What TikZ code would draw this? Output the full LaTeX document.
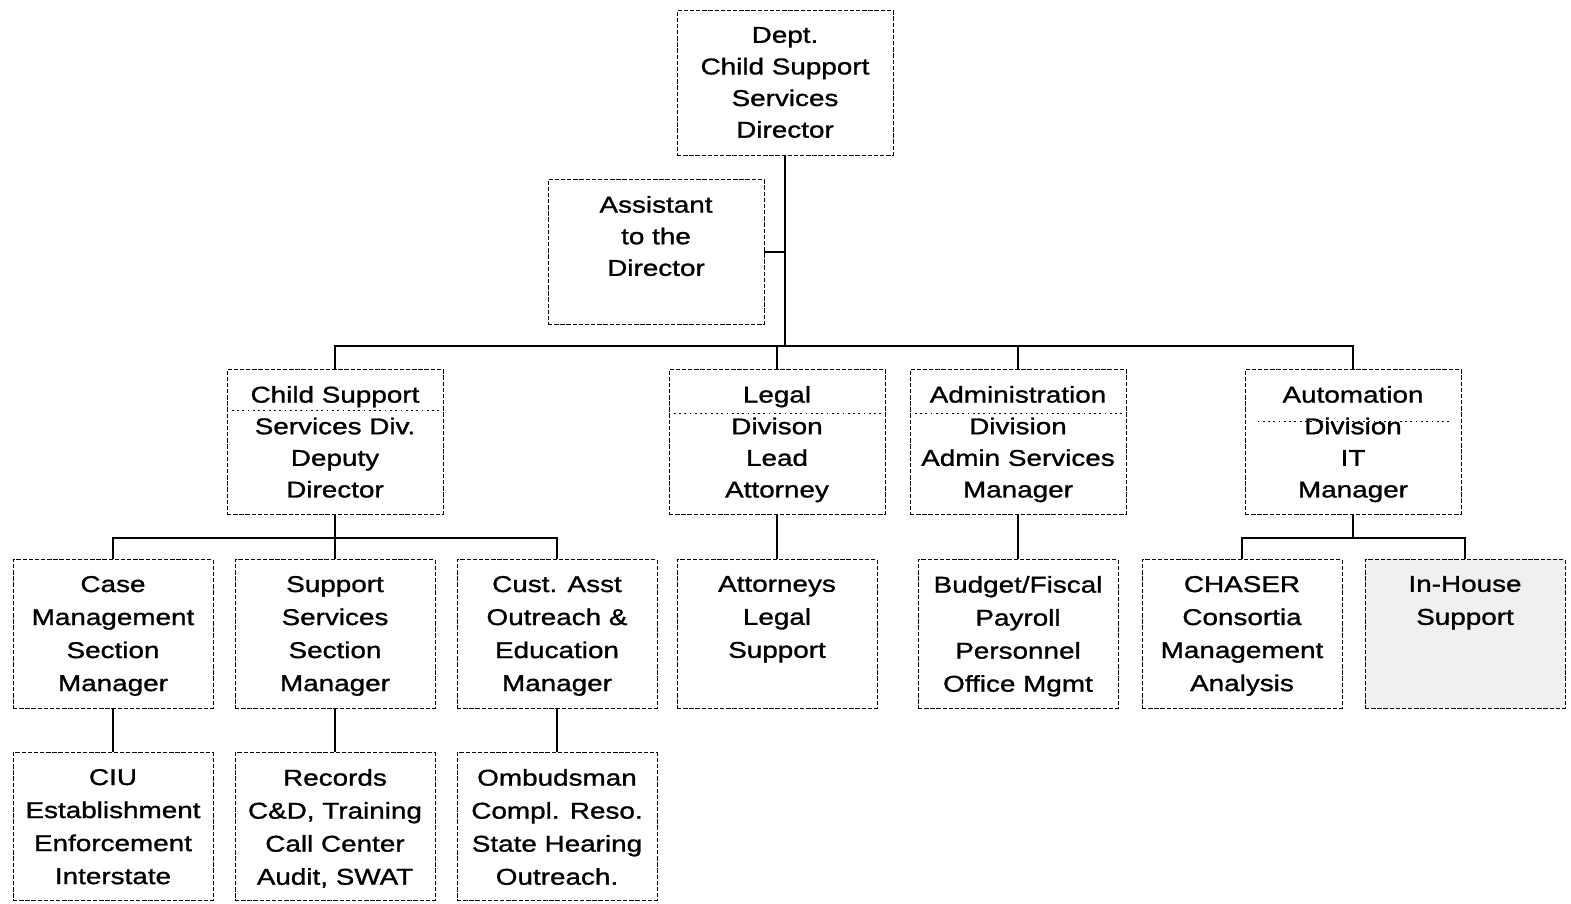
\documentclass[tikz,border=0pt]{standalone}
\usepackage{fontspec}
\setmainfont{Liberation Sans}[FakeStretch=1.22, FakeBold=1.2]

\begin{document}
\begin{tikzpicture}[x=0.02cm, y=-0.02cm,
    unitbox/.style={draw, dash pattern=on 2.5pt off 1pt, line width=0.5pt, anchor=north, inner sep=0pt},
    bigunit/.style={unitbox, minimum width=4.32cm, minimum height=2.9cm},
    smallunit/.style={unitbox, minimum width=4cm, minimum height=2.98cm},
    txt/.style={label={[anchor=north, align=center, inner sep=0pt, yshift=-9.5pt,
        font=\fontsize{13}{18}\selectfont]north:{#1}}},
    stxt/.style={label={[anchor=north, align=center, inner sep=0pt, yshift=-9.5pt,
        font=\fontsize{13}{18.8}\selectfont]north:{#1}}},
    link/.style={line width=1.1pt},
    divider/.style={line width=0.5pt, dash pattern=on 1pt off 2pt}]

    \useasboundingbox (0,0) rectangle (1571,903);

    % Director and assistant
    \node[bigunit, txt={Dept.\\Child Support\\Services\\Director}] (dir) at (785,10) {};
    \node[bigunit, txt={Assistant\\to the\\Director}] (asst) at (656,179) {};

    % Divisions
    \node[bigunit, txt={Child Support\\Services Div.\\Deputy\\Director}] (csd) at (335,369) {};
    \node[bigunit, txt={Legal\\Divison\\Lead\\Attorney}] (legal) at (777,369) {};
    \node[bigunit, txt={Administration\\Division\\Admin Services\\Manager}] (admin) at (1018,369) {};
    \node[bigunit, txt={Automation\\Division\\IT\\Manager}] (auto) at (1353,369) {};

    % Sections
    \node[smallunit, stxt={Case\\Management\\Section\\Manager}] (cm) at (113,559) {};
    \node[smallunit, stxt={Support\\Services\\Section\\Manager}] (ss) at (335,559) {};
    \node[smallunit, stxt={Cust. Asst\\Outreach \&\\Education\\Manager}] (ca) at (557,559) {};
    \node[smallunit, stxt={Attorneys\\Legal\\Support}] (att) at (777,559) {};
    \node[smallunit, stxt={Budget/Fiscal\\Payroll\\Personnel\\Office Mgmt}] (bud) at (1018,559) {};
    \node[smallunit, stxt={CHASER\\Consortia\\Management\\Analysis}] (chaser) at (1242,559) {};
    \node[smallunit, fill=black!6, stxt={In-House\\Support}] (inh) at (1465,559) {};

    % Units
    \node[smallunit, minimum height=2.96cm, stxt={CIU\\Establishment\\Enforcement\\Interstate}] (ciu) at (113,752) {};
    \node[smallunit, minimum height=2.96cm, stxt={Records\\C\&D, Training\\Call Center\\Audit, SWAT}] (rec) at (335,752) {};
    \node[smallunit, minimum height=2.96cm, stxt={Ombudsman\\Compl. Reso.\\State Hearing\\Outreach.}] (omb) at (557,752) {};

    % Dividers inside division boxes
    \draw[divider] (csd.north west) ++(0,41) -- ++(216,0);
    \draw[divider] (legal.north west) ++(0,44) -- ++(216,0);
    \draw[divider] (admin.north west) ++(0,44) -- ++(216,0);
    \draw[divider] (auto.north west) ++(13,52) -- ++(193,0);

    % Connectors
    \draw[link] (dir.south) -- ++(0,190) coordinate (topbar);
    \draw[link] (asst.east) -- (asst.east -| dir.south);
    \draw[link] (csd.north) |- (topbar) -| (auto.north);
    \draw[link] (legal.north) -- (legal.north |- topbar);
    \draw[link] (admin.north) -- (admin.north |- topbar);

    \draw[link] (csd.south) -- ++(0,23) coordinate (csdbar);
    \draw[link] (cm.north) |- (csdbar) -| (ca.north);
    \draw[link] (csdbar) -- (ss.north);
    \draw[link] (legal.south) -- (att.north);
    \draw[link] (admin.south) -- (bud.north);
    \draw[link] (auto.south) -- ++(0,23) coordinate (autobar);
    \draw[link] (chaser.north) |- (autobar) -| (inh.north);

    \draw[link] (cm.south) -- (ciu.north);
    \draw[link] (ss.south) -- (rec.north);
    \draw[link] (ca.south) -- (omb.north);
\end{tikzpicture}
\end{document}
